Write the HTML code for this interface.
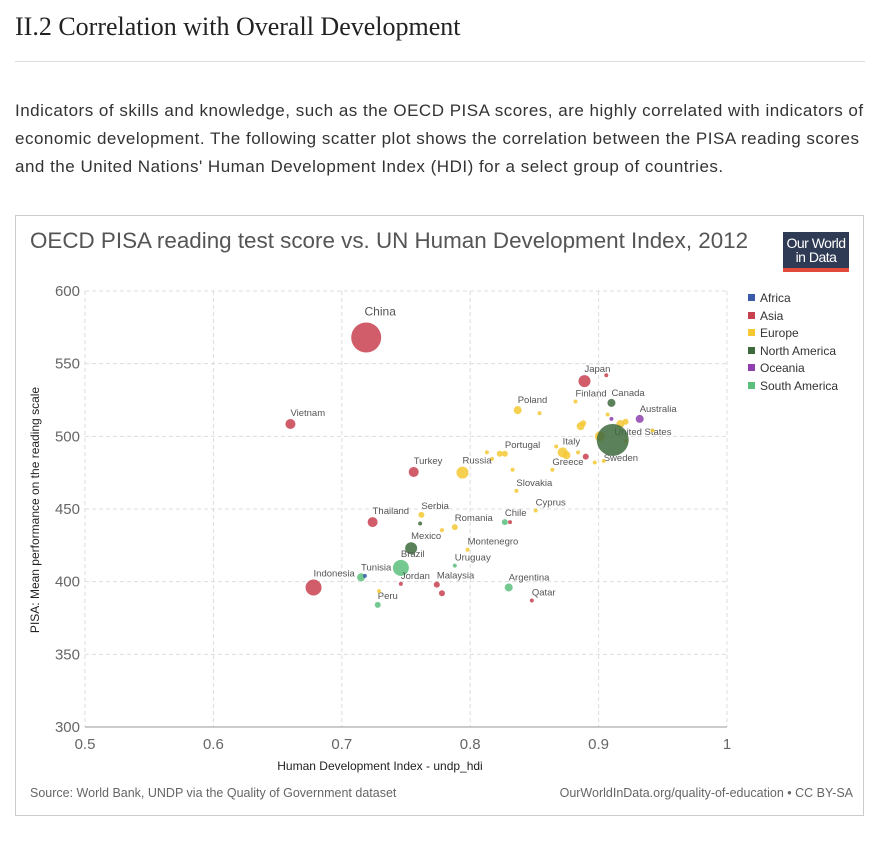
<!DOCTYPE html>
<html><head><meta charset="utf-8"><style>
body{margin:0;width:882px;height:850px;background:#fff;position:relative;font-family:"Liberation Sans",sans-serif;overflow:hidden}
.abs{position:absolute}
h2{position:absolute;left:15px;top:12px;margin:0;font-family:"Liberation Serif",serif;font-weight:normal;font-size:26px;color:#222}
#hr{left:15px;top:61px;width:850px;height:1px;background:#ddd}
#intro{left:15px;top:97px;width:870px;font-size:17px;letter-spacing:0.5px;line-height:28px;color:#333;margin:0;white-space:nowrap}
#box{left:15px;top:215px;width:847px;height:599px;border:1px solid #ccc}
#title{left:30px;top:228px;font-size:22.4px;color:#555}
#logo{left:783px;top:232px;width:66px;height:40px;background:#2f3b55;color:#fff;font-size:14px;line-height:14px;text-align:center;letter-spacing:-0.5px}
#logo .s{position:absolute;left:0;bottom:0;width:66px;height:4px;background:#e24a3b}
.leg{position:absolute;left:748px;font-size:12px;color:#333}
.leg i{display:inline-block;width:7px;height:7px;margin-right:5px;vertical-align:1px}
.foot{position:absolute;top:786px;font-size:12.5px;color:#666}
</style></head><body>
<h2>II.2 Correlation with Overall Development</h2>
<div id="hr" class="abs"></div>
<p id="intro" class="abs">Indicators of skills and knowledge, such as the OECD PISA scores, are highly correlated with indicators of<br>economic development. The following scatter plot shows the correlation between the PISA reading scores<br>and the United Nations' Human Development Index (HDI) for a select group of countries.</p>
<div id="box" class="abs"></div>
<div id="title" class="abs">OECD PISA reading test score vs. UN Human Development Index, 2012</div>
<div id="logo" class="abs"><div style="padding-top:4px">Our World<br>in Data</div><div class="s"></div></div>
<div class="leg" style="top:291px"><i style="background:#3b5ba8"></i>Africa</div>
<div class="leg" style="top:309px"><i style="background:#c8414f"></i>Asia</div>
<div class="leg" style="top:326px"><i style="background:#f5c832"></i>Europe</div>
<div class="leg" style="top:344px"><i style="background:#3e6b3e"></i>North America</div>
<div class="leg" style="top:361px"><i style="background:#8e3fad"></i>Oceania</div>
<div class="leg" style="top:379px"><i style="background:#5cbf7c"></i>South America</div>
<div class="foot" style="left:30px">Source: World Bank, UNDP via the Quality of Government dataset</div>
<div class="foot" style="right:29px">OurWorldInData.org/quality-of-education • CC BY-SA</div>
<svg id="chart" class="abs" style="left:0;top:0" width="882" height="850"></svg>
<script>
const xTicks=[0.5,0.6,0.7,0.8,0.9,1];
const xTickLabels=["0.5","0.6","0.7","0.8","0.9","1"];
const yTicks=[300,350,400,450,500,550,600];
const countries=["China","Vietnam","Japan","","Finland","Canada","Australia","","","United States","","","","","","","Sweden","Italy","","","","","","","Greece","Poland","","Portugal","","","","","Russia","Turkey","Slovakia","Cyprus","Thailand","Serbia","","Romania","","Chile","","Montenegro","Mexico","Uruguay","Brazil","Tunisia","","Indonesia","Jordan","Malaysia","","Argentina","Qatar","Peru",""];
const hdi=[0.719,0.660,0.889,0.906,0.882,0.910,0.932,0.910,0.907,0.917,0.921,0.942,0.886,0.888,0.901,0.921,0.911,0.872,0.875,0.867,0.884,0.890,0.897,0.904,0.864,0.837,0.854,0.827,0.813,0.823,0.817,0.833,0.794,0.756,0.836,0.851,0.724,0.762,0.761,0.788,0.778,0.827,0.831,0.798,0.754,0.788,0.746,0.715,0.718,0.678,0.746,0.774,0.778,0.830,0.848,0.728,0.729];
const score=[568,508.5,538,542,524,523,512,512,515,508.5,510,504,507,509,500,497,497.5,489,487,493,489,486,482,483,477,518,516,488,489,488,484.5,477,475,475.5,462.5,449,441,446,440,437.5,435.5,441,441,422,423,411,409.5,403,404,396,398.5,398,392,396,387,384,393.5];
const region=["as","as","as","as","eu","na","oc","oc","eu","eu","eu","eu","eu","eu","eu","eu","na","eu","eu","eu","eu","as","eu","eu","eu","eu","eu","eu","eu","eu","eu","eu","eu","as","eu","eu","as","eu","na","eu","eu","sa","as","eu","na","sa","sa","sa","af","as","as","as","as","sa","as","sa","eu"];
const popSize=[15,5,6,2,2,4,4,2,2,4,3,2,4,3,5,2,16,5,4,2,2,3,2,2,2,4,2,3,2,3,2,2,6,5,2,2,5,3,2,3,2,3,2,2,6,2,8,4,2,8,2,3,3,4,2,3,2];
const colors={af:"#3b5ba8",as:"#c8414f",eu:"#f5c832",na:"#3e6b3e",oc:"#8e3fad",sa:"#5cbf7c"};
const labelBelow={"Sweden":[-9,21],"United States":[-6,11]};
const X0=85,X1=727,Y0=727,Y1=291;
const xs=v=>X0+(v-0.5)/0.5*(X1-X0);
const ys=v=>Y0-(v-300)/300*(Y0-Y1);
const svg=document.getElementById('chart');const NS="http://www.w3.org/2000/svg";
function mk(t,a){const e=document.createElementNS(NS,t);for(const k in a)e.setAttribute(k,a[k]);svg.appendChild(e);return e;}
xTicks.forEach((t,i)=>{const g=mk('line',{x1:xs(t),x2:xs(t),y1:Y1,y2:Y0,stroke:'#ddd','stroke-dasharray':'4,3'});


const l=mk('text',{x:xs(t),y:Y0+22,'text-anchor':'middle','font-size':15,fill:'#666','font-family':'Liberation Sans'});l.textContent=xTickLabels[i];

});
yTicks.forEach(t=>{const g=mk('line',{x1:X0,x2:X1,y1:ys(t),y2:ys(t),stroke:t==300?'#999':'#ddd','stroke-dasharray':t==300?'':'4,3'});


const l=mk('text',{x:X0-5,y:ys(t)+5,'text-anchor':'end','font-size':15,fill:'#666','font-family':'Liberation Sans'});l.textContent=t;

});
hdi.forEach((h,i)=>{const c=mk('circle',{cx:xs(h),cy:ys(score[i]),r:popSize[i],fill:colors[region[i]],'fill-opacity':0.85});


if(countries[i]){const name=countries[i];const big=name==="China";let x,y;
if(big){x=xs(h)+14;y=ys(score[i])-22;}
else if(labelBelow[name]){x=xs(h)+labelBelow[name][0];y=ys(score[i])+labelBelow[name][1];}
else{x=xs(h);y=ys(score[i])-popSize[i]-3;}
const t=mk('text',{x:x,y:y,'text-anchor':big?'middle':'start','font-size':big?12:9.5,fill:'#555','font-family':'Liberation Sans'});t.textContent=name;

}});
const xt=mk('text',{x:380,y:770,'text-anchor':'middle','font-size':12,fill:'#222','font-family':'Liberation Sans'});xt.textContent='Human Development Index - undp_hdi';


const yt=mk('text',{x:0,y:0,transform:'translate(39,510) rotate(-90)','text-anchor':'middle','font-size':12,fill:'#222','font-family':'Liberation Sans'});yt.textContent='PISA: Mean performance on the reading scale';


</script>
</body></html>
